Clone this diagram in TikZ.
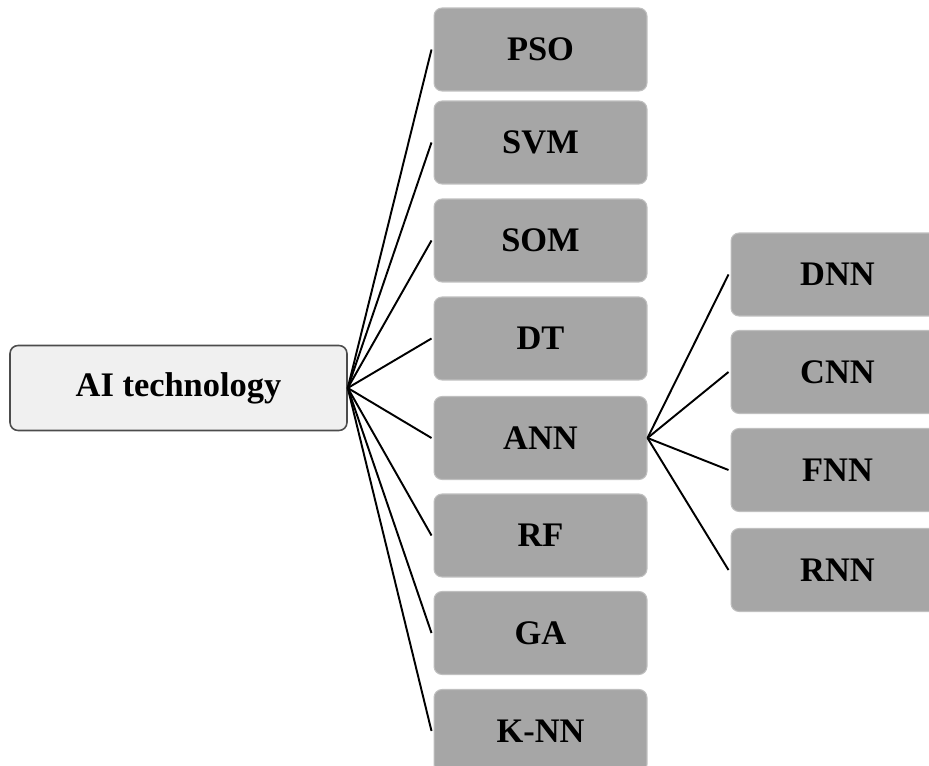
\documentclass[tikz,border=0pt]{standalone}
\usepackage{fontspec}
\setmainfont{Liberation Serif}
\begin{document}
\begin{tikzpicture}[x=0.02cm,y=-0.02cm,
  box/.style={rounded corners=0.16cm, minimum width=4.26cm, minimum height=1.66cm,
    inner sep=0pt, font=\fontsize{19.6}{22}\selectfont\bfseries},
  leaf/.style={box, fill=black!35, draw=black!25, line width=0.6pt},
  rootbox/.style={box, fill=black!6, draw=black!70, line width=0.9pt,
    minimum width=6.74cm, minimum height=1.7cm},
  link/.style={draw=black, line width=1.1pt}]
\useasboundingbox (0,0) rectangle (929,766);
\node[rootbox] (ai) at (178.5,388) {AI technology};
\node[leaf] (pso) at (540.5,49.5) {PSO};
\node[leaf] (svm) at (540.5,142.5) {SVM};
\node[leaf] (som) at (540.5,240.5) {SOM};
\node[leaf] (dt)  at (540.5,338.5) {DT};
\node[leaf] (ann) at (540.5,438) {ANN};
\node[leaf] (rf)  at (540.5,535.5) {RF};
\node[leaf] (ga)  at (540.5,633) {GA};
\node[leaf] (knn) at (540.5,731) {K-NN};
\node[leaf] (dnn) at (837.5,274.5) {DNN};
\node[leaf] (cnn) at (837.5,372) {CNN};
\node[leaf] (fnn) at (837.5,470) {FNN};
\node[leaf] (rnn) at (837.5,570) {RNN};
\foreach \t in {pso,svm,som,dt,ann,rf,ga,knn}
  \draw[link] (ai.east) -- ([xshift=-0.04cm]\t.west);
\foreach \t in {dnn,cnn,fnn,rnn}
  \draw[link] (ann.east) -- ([xshift=-0.04cm]\t.west);
\end{tikzpicture}
\end{document}
